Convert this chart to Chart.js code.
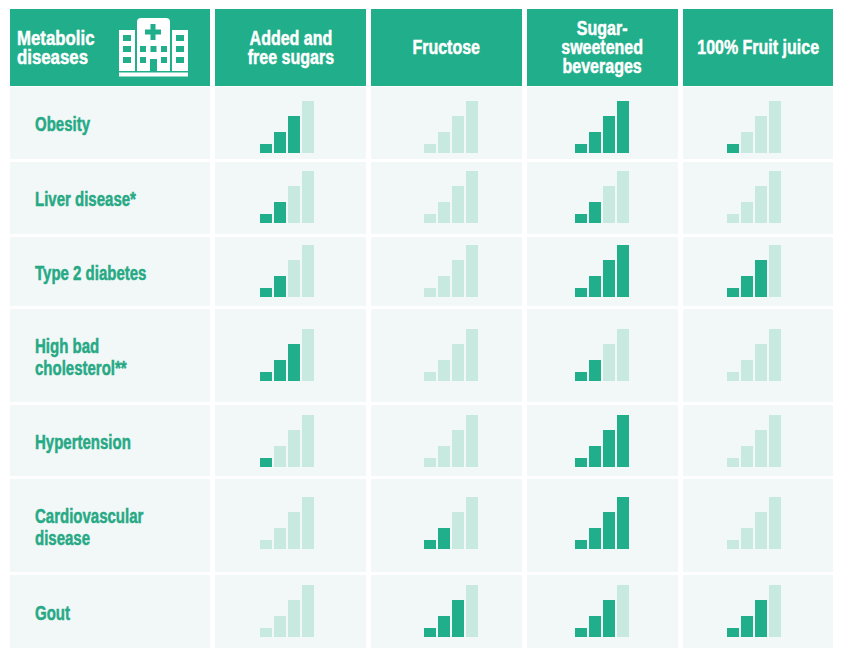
<!DOCTYPE html>
<html><head><meta charset="utf-8">
<script src="https://cdn.jsdelivr.net/npm/chart.js@4.4.1/dist/chart.umd.min.js"></script>
<style>
html,body{margin:0;padding:0;background:#fff;}
body{width:842px;height:664px;position:relative;overflow:hidden;font-family:"Liberation Sans",Arial,sans-serif;font-weight:bold;}
.cell{position:absolute;background:#f2f8f7;}
.hdr{position:absolute;background:#21ae8b;color:#fff;font-size:20px;line-height:19px;display:flex;align-items:center;justify-content:center;text-align:center;white-space:pre;}
.hdr span{display:inline-block;transform:scaleX(0.8);transform-origin:50% 50%;-webkit-text-stroke:0.5px #fff;}
.corner{justify-content:flex-start;text-align:left;padding-left:7px;box-sizing:border-box;}
.corner span{transform:scaleX(0.84);transform-origin:0 50%;}
.lbl{display:flex;align-items:center;padding-left:25px;padding-top:2px;box-sizing:border-box;color:#27a985;font-size:20px;line-height:22px;white-space:pre;}
.lbl span{display:inline-block;transform:scaleX(0.75);transform-origin:0 50%;-webkit-text-stroke:0.5px #27a985;}
canvas{position:absolute;}
svg{position:absolute;}
</style></head><body>
<script>
// ---- data ----
const cornerTitle = "Metabolic\ndiseases";
const sugarSources = ["Added and\nfree sugars", "Fructose", "Sugar-\nsweetened\nbeverages", "100% Fruit juice"];
const diseases = ["Obesity", "Liver disease*", "Type 2 diabetes", "High bad\ncholesterol**", "Hypertension", "Cardiovascular\ndisease", "Gout"];
const barSteps = [1, 2, 3, 4];
const barHeights = [9, 21, 37, 52];
const addedSugarsLevel = [3, 2, 2, 3, 1, 0, 0];
const fructoseLevel    = [0, 0, 0, 0, 0, 2, 3];
const ssbLevel         = [4, 2, 4, 2, 4, 4, 3];
const juiceLevel       = [1, 0, 3, 0, 0, 0, 3];
const levelsBySource = [addedSugarsLevel, fructoseLevel, ssbLevel, juiceLevel];

// ---- layout (pixels) ----
const colLefts = [10, 215, 371, 527, 683];
const colWidths = [200, 151, 151, 151, 150];
const headerTop = 9, headerH = 77;
const rowTops = [87, 162, 237, 309, 405, 479, 575];
const rowHeights = [72, 72, 69, 93, 71, 93, 73];
const barLefts = [260, 424, 575, 727];
const barBottoms = [153, 223, 297, 381, 467, 549, 637];
const DARK = "#21ae8b", LIGHT = "#c8e9df";

const body = document.body;
function div(cls, x, y, w, h, text) {
  const d = document.createElement("div");
  d.className = cls;
  Object.assign(d.style, {left: x + "px", top: y + "px", width: w + "px", height: h + "px"});
  if (text !== undefined) {
    const s = document.createElement("span");
    s.textContent = text;
    d.appendChild(s);
  }
  body.appendChild(d);
  return d;
}

// header
div("hdr corner", colLefts[0], headerTop, colWidths[0], headerH, cornerTitle);
sugarSources.forEach((s, i) => div("hdr", colLefts[i + 1], headerTop, colWidths[i + 1], headerH, s));

// hospital icon
const ns = "http://www.w3.org/2000/svg";
const svg = document.createElementNS(ns, "svg");
svg.setAttribute("width", 70); svg.setAttribute("height", 59);
svg.style.left = "119px"; svg.style.top = "18px";
svg.innerHTML = `
<path d="M18 4 Q18 0 22 0 L47 0 Q51 0 51 4 L51 53 L18 53 Z" fill="#fff"/>
<rect x="0" y="12" width="16" height="41" fill="#fff"/>
<rect x="53" y="12" width="16" height="41" fill="#fff"/>
<rect x="0" y="54.5" width="69" height="4" fill="#fff"/>
<rect x="31.5" y="6" width="5" height="16" fill="${DARK}"/>
<rect x="26" y="11.5" width="16" height="5" fill="${DARK}"/>
<rect x="4" y="17" width="8" height="6" fill="${DARK}"/>
<rect x="4" y="28" width="8" height="6" fill="${DARK}"/>
<rect x="4" y="39" width="8" height="6" fill="${DARK}"/>
<rect x="57" y="17" width="8" height="6" fill="${DARK}"/>
<rect x="57" y="28" width="8" height="6" fill="${DARK}"/>
<rect x="57" y="39" width="8" height="6" fill="${DARK}"/>
<rect x="21" y="28" width="6" height="6" fill="${DARK}"/>
<rect x="31.5" y="28" width="6" height="6" fill="${DARK}"/>
<rect x="42" y="28" width="6" height="6" fill="${DARK}"/>
<rect x="21" y="39" width="6" height="6" fill="${DARK}"/>
<rect x="42" y="39" width="6" height="6" fill="${DARK}"/>
<rect x="31" y="41" width="7" height="12" fill="${DARK}"/>`;
body.appendChild(svg);

// rows
diseases.forEach((name, r) => {
  div("cell lbl", colLefts[0], rowTops[r], colWidths[0], rowHeights[r], name);
  for (let c = 0; c < 4; c++) {
    div("cell", colLefts[c + 1], rowTops[r], colWidths[c + 1], rowHeights[r]);
  }
});

// mini bar charts
diseases.forEach((name, r) => {
  levelsBySource.forEach((levels, c) => {
    const cv = document.createElement("canvas");
    cv.width = 56; cv.height = 52;
    Object.assign(cv.style, {left: (barLefts[c] - 1) + "px", top: (barBottoms[r] - 52) + "px", width: "56px", height: "52px"});
    body.appendChild(cv);
    const level = levels[r];
    new Chart(cv, {
      type: "bar",
      data: {
        labels: barSteps,
        datasets: [{
          data: barHeights,
          backgroundColor: barSteps.map(s => s <= level ? DARK : LIGHT),
          borderWidth: 0,
          barPercentage: 12 / 14,
          categoryPercentage: 1
        }]
      },
      options: {
        responsive: false,
        animation: false,
        events: [],
        layout: {padding: 0},
        plugins: {legend: {display: false}, tooltip: {enabled: false}, title: {display: false}},
        scales: {
          x: {display: false},
          y: {display: false, min: 0, max: 52}
        }
      }
    });
  });
});
</script>
</body></html>
